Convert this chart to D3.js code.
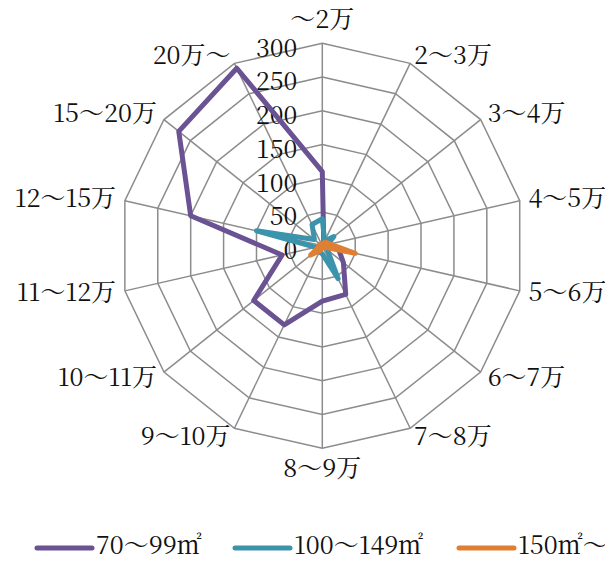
<!DOCTYPE html>
<html>
<head>
<meta charset="utf-8">
<script src="https://cdn.jsdelivr.net/npm/d3@7"></script>
<style>
  html, body { margin: 0; padding: 0; background: #fff; }
  svg { display: block; }
  svg text { font-family: "Noto Serif CJK JP", "Liberation Serif", serif; fill: #111; }
</style>
</head>
<body>
<svg id="chart" width="605" height="567"></svg>
<script>
const categories = ["～2万","2～3万","3～4万","4～5万","5～6万","6～7万","7～8万","8～9万","9～10万","10～11万","11～12万","12～15万","15～20万","20万～"];
const seriesNames = ["70～99㎡","100～149㎡","150㎡～"];
const values70 = [110, 5, 5, 10, 25, 40, 80, 82, 130, 130, 61, 200, 272, 292];
const values100 = [40, 8, 22, 8, 10, 10, 54, 12, 10, 8, 10, 100, 15, 35];
const values150 = [3, 5, 8, 12, 50, 3, 3, 3, 8, 22, 5, 5, 3, 3];
const tickValues = [0, 50, 100, 150, 200, 250, 300];
const seriesColors = ["#6a5293", "#3b94ab", "#e07f34"];
const FONT = "\"Noto Serif CJK JP\", \"Liberation Serif\", serif";

const svg = d3.select("#chart");
const cx = 322.3, cy = 245.8, R = 202.5;
const n = categories.length;
const r = d3.scaleLinear().domain([0, 300]).range([0, R]);
const angle = d3.scaleLinear().domain([0, n]).range([0, 2 * Math.PI]);

const g = svg.append("g").attr("transform", `translate(${cx},${cy})`);

const ringLine = d3.lineRadial().angle((d, i) => angle(i)).radius(d => r(d)).curve(d3.curveLinearClosed);
tickValues.filter(t => t > 0).forEach(t => {
  g.append("path").attr("d", ringLine(categories.map(() => t)))
    .attr("fill", "none").attr("stroke", "#8c8c8c").attr("stroke-width", 1.5);
});
categories.forEach((c, i) => {
  const a = angle(i);
  g.append("line").attr("x1", 0).attr("y1", 0)
    .attr("x2", R * Math.sin(a)).attr("y2", -R * Math.cos(a))
    .attr("stroke", "#8c8c8c").attr("stroke-width", 1.5);
});

tickValues.forEach(t => {
  g.append("text").attr("x", -25).attr("y", -r(t) + 7)
    .attr("text-anchor", "end").attr("dominant-baseline", "middle")
    .style("font-family", FONT).style("font-size", "25px").text(t);
});

categories.forEach((c, i) => {
  const a = angle(i);
  const s = Math.sin(a), co = Math.cos(a);
  let x = (R + 9) * s, y = -(R + 9) * co + 2;
  let anchor = "start";
  if (Math.abs(s) < 1e-6) { anchor = "middle"; x = 0; y = co > 0 ? -R - 22 : R + 22; }
  else if (s < 0) anchor = "end";
  g.append("text").attr("x", x).attr("y", y)
    .attr("text-anchor", anchor).attr("dominant-baseline", "middle")
    .style("font-family", FONT).style("font-size", "25px").text(c);
});

const seriesLine = d3.lineRadial().angle((d, i) => angle(i)).radius(d => r(d)).curve(d3.curveLinearClosed);
[values70, values100, values150].forEach((vals, k) => {
  g.append("path").attr("d", seriesLine(vals))
    .attr("fill", "none").attr("stroke", seriesColors[k])
    .attr("stroke-width", 5).attr("stroke-linejoin", "round");
});

const legendX = [37, 235, 459];
const legendY = 548;
seriesNames.forEach((name, k) => {
  svg.append("line").attr("x1", legendX[k]).attr("x2", legendX[k] + 55)
    .attr("y1", legendY).attr("y2", legendY)
    .attr("stroke", seriesColors[k]).attr("stroke-width", 5).attr("stroke-linecap", "round");
  svg.append("text").attr("x", legendX[k] + 59).attr("y", legendY)
    .attr("dominant-baseline", "middle")
    .style("font-family", FONT).style("font-size", "25px").text(name);
});
</script>
</body>
</html>
